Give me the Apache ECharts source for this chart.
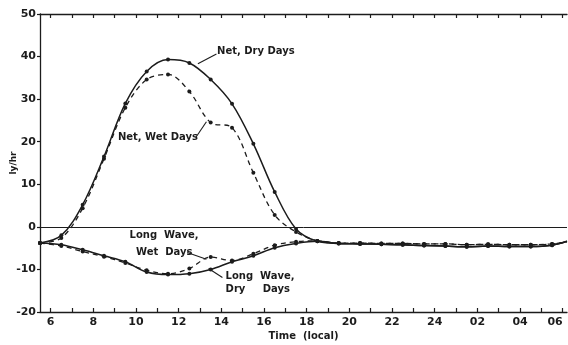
<!DOCTYPE html>
<html>
<head>
<meta charset="utf-8">
<script src="https://cdn.jsdelivr.net/npm/echarts@6/dist/echarts.min.js"></script>
<style>
  html, body { margin: 0; padding: 0; background: #ffffff; }
  #chart { width: 568px; height: 345px; }
</style>
</head>
<body>
<div id="chart"></div>
<script>
// Hourly observations, plotted at the half hour (local time; 24.5 = 00:30 next day)
const hours = [5.5, 6.5, 7.5, 8.5, 9.5, 10.5, 11.5, 12.5, 13.5, 14.5, 15.5, 16.5, 17.5,
               18.5, 19.5, 20.5, 21.5, 22.5, 23.5, 24.5, 25.5, 26.5, 27.5, 28.5, 29.5, 30.2];

// Net radiation (ly/hr)
const netDry = [-3.8, -2.0, 5.2, 16.5, 29.0, 36.5, 39.3, 38.5, 34.6, 28.9, 19.5, 8.2, -0.5,
                -3.4, -3.9, -4.0, -4.1, -4.2, -4.4, -4.5, -4.7, -4.5, -4.6, -4.6, -4.3, -3.4];
const netWet = [-3.8, -2.6, 4.4, 16.0, 28.0, 34.6, 35.8, 31.8, 24.5, 23.3, 12.7, 2.8, -1.2,
                -3.3, -3.8, -3.8, -3.9, -3.9, -4.0, -4.0, -4.2, -4.1, -4.2, -4.2, -4.0, -3.5];

// Net long-wave radiation (ly/hr)
const longDry = [-3.8, -4.2, -5.4, -6.8, -8.2, -10.6, -11.2, -11.0, -10.0, -8.2, -6.8, -4.9, -3.9,
                 -3.4, -3.9, -4.0, -4.1, -4.2, -4.4, -4.5, -4.7, -4.5, -4.6, -4.6, -4.3, -3.4];
const longWet = [-3.8, -4.5, -5.8, -7.0, -8.5, -10.2, -11.0, -9.8, -7.1, -7.9, -6.3, -4.3, -3.5,
                 -3.3, -3.8, -3.8, -3.9, -3.9, -4.0, -4.0, -4.2, -4.1, -4.2, -4.2, -4.0, -3.5];

// Axis ticks
const hourTicks = [6, 7, 8, 9, 10, 11, 12, 13, 14, 15, 16, 17, 18, 19, 20, 21, 22, 23, 24,
                   25, 26, 27, 28, 29, 30];
const hourLabels = [6, 8, 10, 12, 14, 16, 18, 20, 22, 24, 26, 28, 30];

// Curve labels, anchored in data coordinates [hour, ly/hr]
const notes = [
  { text: 'Net, Dry Days', at: [13.8, 41.1] },
  { text: 'Net, Wet Days', at: [9.15, 21.1] },
  { text: 'Long  Wave,', at: [9.7, -1.9] },
  { text: 'Wet  Days', at: [10.0, -5.9] },
  { text: 'Long  Wave,', at: [14.2, -11.7] },
  { text: 'Dry     Days', at: [14.2, -14.8] }
];
const pointers = [
  [[13.77, 40.6], [12.9, 38.3]],
  [[12.8, 21.0], [13.3, 24.7]],
  [[12.4, -6.0], [13.3, -7.6]],
  [[14.05, -11.9], [13.4, -9.8]]
];

const ink = '#1c1c1c';
const font = 'DejaVu Sans';

function hourText(v) {
  if (v > 24) { const h = v - 24; return (h < 10 ? '0' : '') + h; }
  return String(v);
}

function pairs(ys) {
  return hours.map((h, i) => {
    const item = { value: [h, ys[i]] };
    if (i === hours.length - 1) item.symbolSize = 0;
    return item;
  });
}

function curve(name, ys, dashed) {
  return {
    name: name,
    type: 'line',
    data: pairs(ys),
    smooth: 0.35,
    symbol: 'circle',
    symbolSize: 4,
    itemStyle: { color: ink },
    lineStyle: { color: ink, width: dashed ? 1.3 : 1.5, type: dashed ? [5, 4] : 'solid' },
    emphasis: { disabled: true },
    z: dashed ? 3 : 4
  };
}

const chart = echarts.init(document.getElementById('chart'), null, { renderer: 'canvas' });

const series = [
  curve('Net, Dry Days', netDry, false),
  curve('Net, Wet Days', netWet, true),
  curve('Long Wave, Dry Days', longDry, false),
  curve('Long Wave, Wet Days', longWet, true)
];
series[0].markLine = {
  silent: true,
  symbol: ['none', 'none'],
  label: { show: false },
  lineStyle: { color: ink, width: 1, type: 'solid' },
  data: [{ yAxis: 0 }]
};

chart.setOption({
  animation: false,
  backgroundColor: '#ffffff',
  grid: { left: 40, right: 1, top: 14, bottom: 33, outerBoundsMode: 'none', containLabel: false },
  xAxis: [
    {
      type: 'value', position: 'bottom', min: 5.5, max: 30.2,
      axisLine: { show: true, onZero: false, lineStyle: { color: ink, width: 1.3 } },
      axisTick: { show: true, inside: true, length: 4, customValues: hourTicks,
                  lineStyle: { color: ink, width: 1.2 } },
      axisLabel: { customValues: hourLabels, formatter: hourText, color: ink,
                   fontFamily: font, fontWeight: 'bold', fontSize: 11, margin: 5,
                   alignMaxLabel: 'right' },
      splitLine: { show: false },
      name: 'Time  (local)', nameLocation: 'middle', nameGap: 19, nameMoveOverlap: false,
      nameTextStyle: { color: ink, fontFamily: font, fontWeight: 'bold', fontSize: 10 }
    },
    {
      type: 'value', position: 'top', min: 5.5, max: 30.2,
      axisLine: { show: true, onZero: false, lineStyle: { color: ink, width: 1.3 } },
      axisTick: { show: true, inside: true, length: 4, customValues: hourTicks,
                  lineStyle: { color: ink, width: 1.2 } },
      axisLabel: { show: false },
      splitLine: { show: false }
    }
  ],
  yAxis: {
    type: 'value', min: -20, max: 50, interval: 10,
    axisLine: { show: true, onZero: false, lineStyle: { color: ink, width: 1.3 } },
    axisTick: { show: true, length: 3, lineStyle: { color: ink, width: 1.2 } },
    axisLabel: { color: ink, fontFamily: font, fontWeight: 'bold', fontSize: 11, margin: 4 },
    splitLine: { show: false },
    name: 'ly/hr', nameLocation: 'middle', nameRotate: 90, nameGap: 22, nameMoveOverlap: false,
    nameTextStyle: { color: ink, fontFamily: font, fontWeight: 'bold', fontSize: 9 }
  },
  series: series
});

// Curve labels and their leader lines
function toPx(p) { return chart.convertToPixel({ xAxisIndex: 0, yAxisIndex: 0 }, p); }
const graphics = [];
notes.forEach(n => {
  const p = toPx(n.at);
  graphics.push({
    type: 'text', x: p[0], y: p[1], silent: true,
    style: { text: n.text, fill: ink, font: 'bold 10px "DejaVu Sans"',
             textVerticalAlign: 'middle', textAlign: 'left' }
  });
});
pointers.forEach(seg => {
  graphics.push({
    type: 'polyline', silent: true,
    shape: { points: seg.map(toPx) },
    style: { stroke: ink, lineWidth: 1.1, fill: null }
  });
});
chart.setOption({ graphic: graphics });
</script>
</body>
</html>
